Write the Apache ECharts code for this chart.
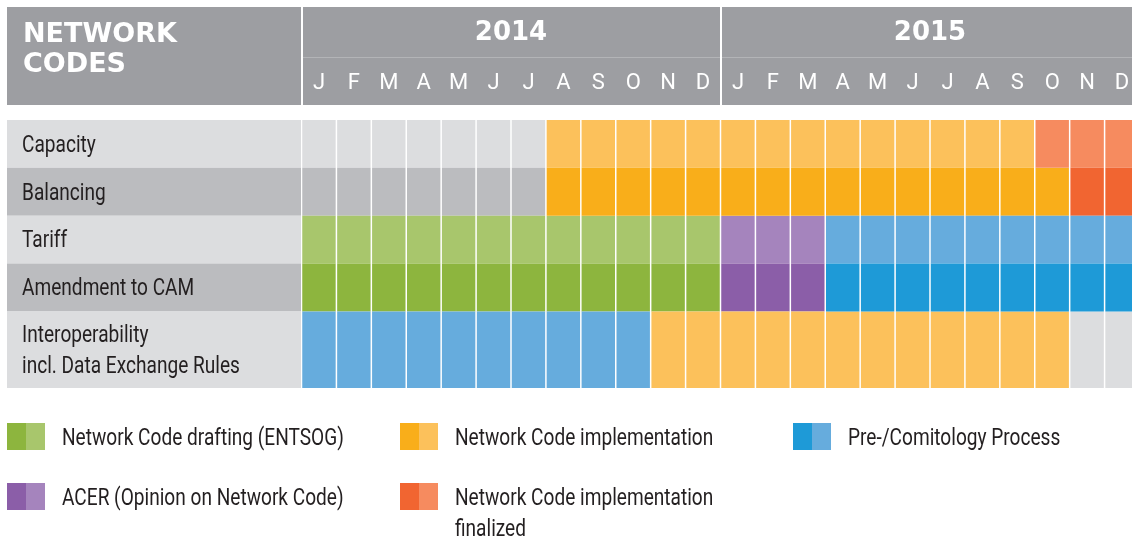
<!DOCTYPE html>
<html>
<head>
<meta charset="utf-8">
<script src="https://cdn.jsdelivr.net/npm/echarts@6/dist/echarts.min.js"></script>
<style>html,body{margin:0;padding:0;background:#fff}#c{width:1132px;height:543px}</style>
</head>
<body>
<div id="c"></div>
<script>
// ---------- DATA ----------
const YEARS = ['2014', '2015'];
const MONTH_TICKS = ['J','F','M','A','M','J','J','A','S','O','N','D'];
const ROWS = ['Capacity', 'Balancing', 'Tariff', 'Amendment to CAM', 'Interoperability\nincl. Data Exchange Rules'];
// status per month (Jan 2014 .. Dec 2015): '-' none, D drafting, A ACER, C comitology, I implementation, F finalized
const capacity     = ['-','-','-','-','-','-','-','I','I','I','I','I', 'I','I','I','I','I','I','I','I','I','F','F','F'];
const balancing    = ['-','-','-','-','-','-','-','I','I','I','I','I', 'I','I','I','I','I','I','I','I','I','I','F','F'];
const tariff       = ['D','D','D','D','D','D','D','D','D','D','D','D', 'A','A','A','C','C','C','C','C','C','C','C','C'];
const amendmentCAM = ['D','D','D','D','D','D','D','D','D','D','D','D', 'A','A','A','C','C','C','C','C','C','C','C','C'];
const interop      = ['C','C','C','C','C','C','C','C','C','C','I','I', 'I','I','I','I','I','I','I','I','I','I','-','-'];
const ROW_STATUS = [capacity, balancing, tariff, amendmentCAM, interop];
const STATUS_CODES = ['D', 'A', 'I', 'F', 'C'];
const STATUS_NAMES = ['Network Code drafting (ENTSOG)', 'ACER (Opinion on Network Code)', 'Network Code implementation', 'Network Code implementation\nfinalized', 'Pre-/Comitology Process'];

// ---------- STYLE / LAYOUT ----------
const STATUS_COLORS = {
  D: ['#8db53e', '#a8c66c'],
  A: ['#8b5ea8', '#a584bd'],
  I: ['#f9ae1a', '#fcc15b'],
  F: ['#f16531', '#f68b5f'],
  C: ['#1e9ad7', '#66acdd'],
  '-': ['#bbbcbf', '#dcdddf']
};
const ROW_SPAN = [1, 1, 1, 1, 1.6];
const ROW_START = ROW_SPAN.reduce((a, s, i) => { a.push(i ? a[i - 1] + ROW_SPAN[i - 1] : 0); return a; }, []);
const Y_MAX = ROW_SPAN.reduce((a, b) => a + b, 0);
const LEGEND_SLOT = [[0, 0], [0, 1], [1, 0], [1, 1], [2, 0]]; // column, row for each status
const isDark = r => r % 2 === 1;
const FONT = 'Roboto, "Noto Sans", sans-serif';
const TEXT_SIZE = 23, TEXT_SCALE = 0.83;
const BOLD = '"DejaVu Sans", Verdana, sans-serif';
const TEXT = '#231f20';
const HEADER = '#9d9ea2';

const categories = [];
YEARS.forEach(y => MONTH_TICKS.forEach((m, i) => categories.push(y + '-' + i)));

function condensedText(x, y, text, va) {
  return { type: 'text', x: x, y: y + 2, scaleX: TEXT_SCALE,
           style: { text: text, fill: TEXT, font: TEXT_SIZE + 'px ' + FONT, lineHeight: 31,
                    align: 'left', verticalAlign: va || 'middle' } };
}

function cellRender(params, api) {
  const m = api.value(0), r = api.value(1);
  const bw = api.size([1, 0])[0];
  const cx = api.coord([m, 0])[0];
  const y0 = api.coord([0, ROW_START[r]])[1];
  const y1 = api.coord([0, ROW_START[r] + ROW_SPAN[r]])[1];
  const code = ROW_STATUS[r][m];
  return {
    type: 'rect',
    shape: { x: cx - bw / 2 + 0.75, y: Math.min(y0, y1), width: bw - 1.5, height: Math.abs(y1 - y0) },
    style: { fill: STATUS_COLORS[code][isDark(r) ? 0 : 1] }
  };
}

const series = [];
const buckets = { '-': [] };
STATUS_CODES.forEach(c => buckets[c] = []);
ROW_STATUS.forEach((arr, r) => arr.forEach((c, m) => buckets[c].push([m, r])));

series.push({
  type: 'custom', name: 'none', xAxisIndex: 1, yAxisIndex: 1,
  renderItem: cellRender, data: buckets['-'], silent: true
});
STATUS_CODES.forEach((c, i) => series.push({
  type: 'custom', name: STATUS_NAMES[i], xAxisIndex: 1, yAxisIndex: 1,
  itemStyle: { color: STATUS_COLORS[c][0] },
  renderItem: cellRender, data: buckets[c], silent: true
}));
// row label column
series.push({
  type: 'custom', name: 'rowLabels', xAxisIndex: 0, yAxisIndex: 0, silent: true,
  data: ROWS.map((n, r) => [0, r]),
  renderItem: function (params, api) {
    const r = api.value(1);
    const p0 = api.coord([0, ROW_START[r]]);
    const p1 = api.coord([1, ROW_START[r] + ROW_SPAN[r]]);
    return {
      type: 'group',
      children: [
        { type: 'rect', shape: { x: p0[0], y: p0[1], width: p1[0] - p0[0], height: p1[1] - p0[1] },
          style: { fill: isDark(r) ? '#bbbcbf' : '#dcdddf' } },
        condensedText(p0[0] + 15, (p0[1] + p1[1]) / 2, ROWS[r])
      ]
    };
  }
});
// legend (two-tone swatches)
series.push({
  type: 'custom', name: 'legendKeys', xAxisIndex: 3, yAxisIndex: 2, silent: true,
  data: STATUS_CODES.map((c, i) => [LEGEND_SLOT[i][0], LEGEND_SLOT[i][1], i]),
  renderItem: function (params, api) {
    const i = api.value(2);
    const p = api.coord([api.value(0), api.value(1)]);
    const c = STATUS_CODES[i];
    return {
      type: 'group',
      children: [
        { type: 'rect', shape: { x: p[0], y: p[1], width: 19, height: 27 }, style: { fill: STATUS_COLORS[c][0] } },
        { type: 'rect', shape: { x: p[0] + 19, y: p[1], width: 19, height: 27 }, style: { fill: STATUS_COLORS[c][1] } },
        condensedText(p[0] + 55, p[1] + 13.5 - 14.5, STATUS_NAMES[i], 'top')
      ]
    };
  }
});

const option = {
  animation: false,
  backgroundColor: '#ffffff',
  title: {
    text: 'NETWORK\nCODES', left: 23, top: 20, padding: 0,
    textStyle: { color: '#ffffff', fontSize: 27, fontWeight: 'bold', fontFamily: BOLD, lineHeight: 30 }
  },
  graphic: [
    { type: 'rect', z: -10, shape: { x: 7, y: 7, width: 1125, height: 98 }, style: { fill: HEADER } },
    { type: 'line', z: -9, shape: { x1: 302, y1: 57.5, x2: 1132, y2: 57.5 }, style: { stroke: '#b3b4b7', lineWidth: 1 } }
  ],
  grid: [
    { left: 7, top: 120, width: 294, height: 268, outerBoundsMode: 'none' },
    { left: 301.5, top: 120, width: 838, height: 268, outerBoundsMode: 'none' },
    { left: 7, top: 423, width: 786, height: 60, outerBoundsMode: 'none' }
  ],
  xAxis: [
    { gridIndex: 0, type: 'value', min: 0, max: 1, show: false },
    { gridIndex: 1, type: 'category', data: categories, position: 'top', boundaryGap: true,
      axisLine: { show: false }, axisTick: { show: false }, splitLine: { show: false },
      axisLabel: { interval: 0, color: '#ffffff', fontSize: 22, fontFamily: FONT, margin: 37, verticalAlign: 'middle',
                   formatter: v => MONTH_TICKS[+v.split('-')[1]] } },
    { gridIndex: 1, type: 'category', data: YEARS, position: 'top', boundaryGap: true,
      axisLine: { show: false },
      axisTick: { show: true, length: 113, inside: false, lineStyle: { color: '#ffffff', width: 2 } },
      splitLine: { show: false },
      axisLabel: { interval: 0, color: '#ffffff', fontSize: 26, fontWeight: 'bold', fontFamily: BOLD, margin: 87, verticalAlign: 'middle' } },
    { gridIndex: 2, type: 'value', min: 0, max: 2, show: false }
  ],
  yAxis: [
    { gridIndex: 0, type: 'value', min: 0, max: Y_MAX, inverse: true, show: false },
    { gridIndex: 1, type: 'value', min: 0, max: Y_MAX, inverse: true, show: false },
    { gridIndex: 2, type: 'value', min: 0, max: 1, inverse: true, show: false }
  ],
  series: series
};
const chart = echarts.init(document.getElementById('c'), null, { renderer: 'canvas' });
chart.setOption(option);
</script>
</body>
</html>
